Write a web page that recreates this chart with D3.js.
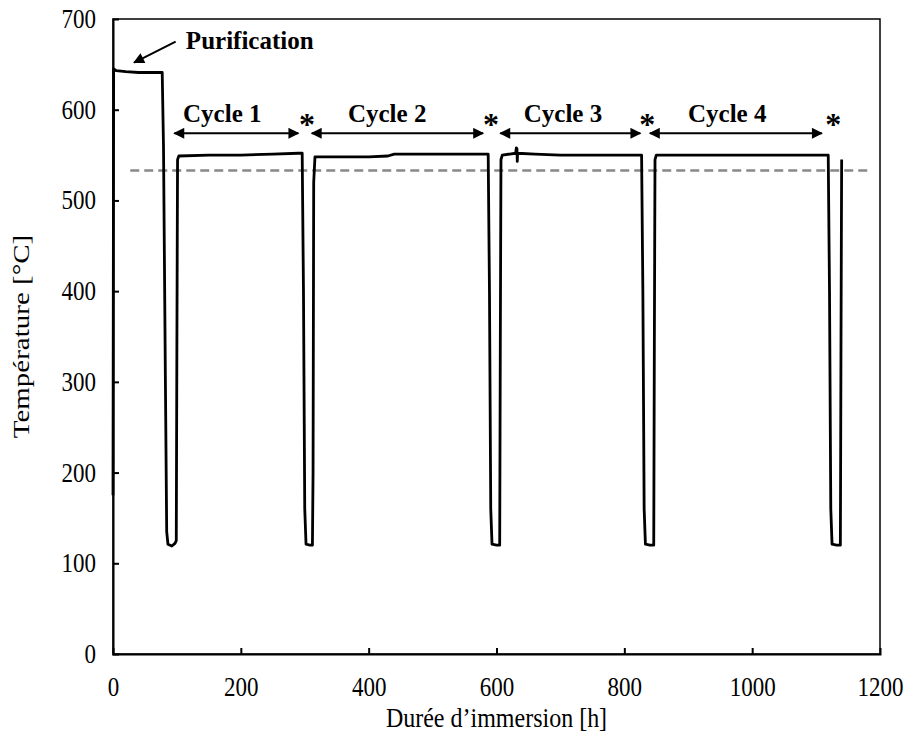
<!DOCTYPE html>
<html>
<head>
<meta charset="utf-8">
<script src="https://cdn.jsdelivr.net/npm/d3@7"></script>
<style>
  html, body { margin: 0; padding: 0; background: #fff; }
  svg { display: block; }
  text { font-family: "Liberation Serif", "Times New Roman", serif; fill: #000; }
</style>
</head>
<body>
<svg id="chart" width="907" height="736"></svg>
<script>
// ---- Data ----
const timeHours = [0, 1, 5, 20, 40, 60, 77, 79, 82, 84, 86, 92, 97, 99, 100, 101, 103, 150, 200, 250, 290, 296,
  298, 300, 302, 308, 312, 313, 314, 316, 360, 400, 430, 440, 500, 560, 587, 589, 591, 593, 600, 605,
  606, 607, 609, 630, 631, 632, 632.5, 633, 660, 700, 760, 827, 829, 831, 833, 840, 846, 847, 848, 850,
  900, 1000, 1060, 1119, 1121, 1123, 1125, 1132, 1138, 1139, 1140];
const temperature = [175, 645, 643, 642, 641, 641, 641, 560, 300, 135, 121, 119, 122, 125, 350, 545, 549, 550, 550, 551, 552, 552,
  400, 160, 121, 120, 120, 200, 520, 548, 548, 548, 549, 551, 551, 551, 551, 400, 160, 121, 120, 120,
  350, 545, 550, 552, 558, 557, 543, 552, 551, 550, 550, 550, 400, 160, 121, 120, 120, 350, 545, 550,
  550, 550, 550, 550, 400, 160, 121, 120, 120, 350, 545];

const referenceTemp = 533;
const referenceSpan = [27, 1182];

const cycleLabels = ["Cycle 1", "Cycle 2", "Cycle 3", "Cycle 4"];
const cycleStart = [96, 311, 606, 840];
const cycleEnd = [290, 579, 825, 1109];
const cycleLabelX = [171, 429, 704, 961];
const markerX = [303.6, 591.5, 835.7, 1126.7];

const xTicks = [0, 200, 400, 600, 800, 1000, 1200];
const yTicks = [0, 100, 200, 300, 400, 500, 600, 700];

const xTitle = "Durée d’immersion [h]";
const yTitle = "Température [°C]";
const purificationLabel = "Purification";

// ---- Drawing ----
const svg = d3.select("#chart");
const margin = { left: 113, top: 19, right: 27, bottom: 82 };
const W = 907 - margin.left - margin.right;
const H = 736 - margin.top - margin.bottom;
const stretch = 1.15; // reference text looks vertically stretched

const x = d3.scaleLinear().domain([0, 1200]).range([0, W]);
const y = d3.scaleLinear().domain([0, 700]).range([H, 0]);

const g = svg.append("g").attr("transform", `translate(${margin.left},${margin.top})`);

const defs = svg.append("defs");
defs.append("marker").attr("id", "ah").attr("viewBox", "0 0 10 10")
  .attr("refX", 9).attr("refY", 5).attr("markerWidth", 13).attr("markerHeight", 11)
  .attr("markerUnits", "userSpaceOnUse").attr("orient", "auto-start-reverse")
  .append("path").attr("d", "M0,0 L10,5 L0,10 z").attr("fill", "#000");

// frame
g.append("rect").attr("x", 0).attr("y", 0).attr("width", W).attr("height", H)
  .attr("fill", "none").attr("stroke", "#000").attr("stroke-width", 1.5);

// axes
const xAxis = d3.axisBottom(x).tickValues(xTicks).tickSize(-6).tickPadding(23).tickFormat(d3.format("d"));
const yAxis = d3.axisLeft(y).tickValues(yTicks).tickSize(-6).tickPadding(17).tickFormat(d3.format("d"));

const gx = g.append("g").attr("transform", `translate(0,${H})`).call(xAxis);
const gy = g.append("g").call(yAxis);
[gx, gy].forEach(a => {
  a.attr("font-family", null);
  a.select(".domain").attr("stroke", "#000").attr("stroke-width", 2);
  a.selectAll(".tick line").attr("stroke", "#000").attr("stroke-width", 2);
  a.selectAll(".tick text").style("font-family", "'Liberation Serif', serif").style("font-size", "23px")
    .attr("fill", "#000").attr("transform", `scale(1,${stretch})`);
});
gy.selectAll(".tick text").attr("dy", "0.32em");
gx.selectAll(".tick text").attr("y", 20);
gy.selectAll(".tick").filter(d => d === 0 || d === 700).select("line").remove();
gx.selectAll(".tick").filter(d => d === 0 || d === 1200).select("line").remove();

// reference dashed line
g.append("line")
  .attr("x1", x(referenceSpan[0])).attr("x2", x(referenceSpan[1]))
  .attr("y1", y(referenceTemp)).attr("y2", y(referenceTemp))
  .attr("stroke", "#888").attr("stroke-width", 2.5).attr("stroke-dasharray", "9,5");

// temperature curve
const pts = timeHours.map((t, i) => [t, temperature[i]]);
g.append("path").datum(pts)
  .attr("fill", "none").attr("stroke", "#000").attr("stroke-width", 2.8)
  .attr("stroke-linejoin", "round")
  .attr("d", d3.line().x(d => x(d[0])).y(d => y(d[1])));

// cycle arrows
const arrowY = y(574);
cycleLabels.forEach((lab, i) => {
  g.append("line")
    .attr("x1", x(cycleStart[i])).attr("x2", x(cycleEnd[i]))
    .attr("y1", arrowY).attr("y2", arrowY)
    .attr("stroke", "#000").attr("stroke-width", 2)
    .attr("marker-start", "url(#ah)").attr("marker-end", "url(#ah)");
  g.append("text").attr("x", x(cycleLabelX[i])).attr("y", y(586))
    .attr("text-anchor", "middle").style("font-size", "25px").style("font-weight", "bold")
    .text(lab);
  g.append("text").attr("x", x(markerX[i])).attr("y", y(567) - 5)
    .attr("text-anchor", "middle").style("font-size", "32px").style("font-weight", "bold")
    .text("*");
});

// purification annotation
g.append("line")
  .attr("x1", x(98)).attr("y1", y(675))
  .attr("x2", x(33)).attr("y2", y(652))
  .attr("stroke", "#000").attr("stroke-width", 2)
  .attr("marker-end", "url(#ah)");
g.append("text").attr("x", x(114)).attr("y", y(667))
  .style("font-size", "25px").style("font-weight", "bold").text(purificationLabel);

// axis titles
svg.append("text").attr("transform", `translate(${margin.left + W / 2},727) scale(1,${stretch})`)
  .attr("text-anchor", "middle").attr("fill", "#000").style("font-size", "24px").text(xTitle);
svg.append("text").attr("transform", `translate(29,${margin.top + H / 2}) rotate(-90) scale(${stretch * 1.05},1)`)
  .attr("text-anchor", "middle").attr("fill", "#000").style("font-size", "24px").text(yTitle);
</script>
</body>
</html>
